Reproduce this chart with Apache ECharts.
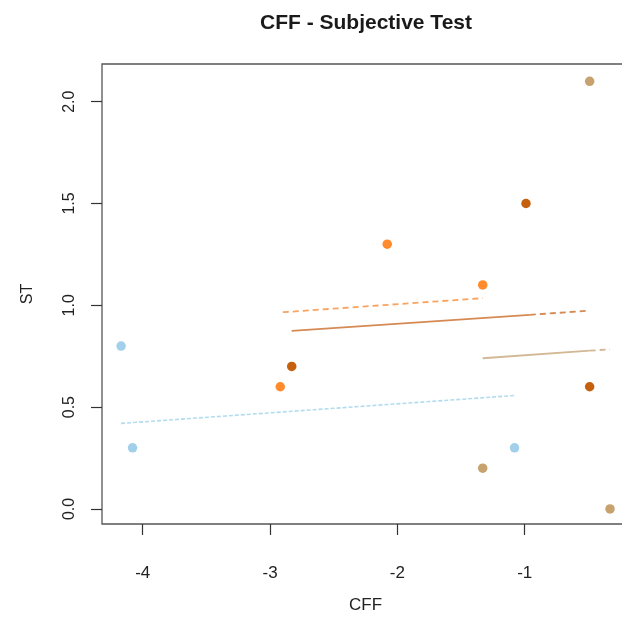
<!DOCTYPE html>
<html>
<head>
<meta charset="utf-8">
<script src="https://cdn.jsdelivr.net/npm/echarts@6/dist/echarts.min.js"></script>
<style>html,body{margin:0;padding:0;background:#fff;overflow:hidden;width:622px;height:619px;}#c{width:629px;height:619px;}</style>
</head>
<body>
<div id="c"></div>
<script>
// ---- data ----
const blueX = [-4.17, -4.08, -1.08];
const blueY = [0.8, 0.3, 0.3];
const orangeX = [-2.92, -2.08, -1.33];
const orangeY = [0.6, 1.3, 1.1];
const darkX = [-2.83, -0.99, -0.49];
const darkY = [0.7, 1.5, 0.6];
const tanX = [-0.49, -1.33, -0.33];
const tanY = [2.1, 0.2, 0.0];

// fitted lines (solid part / dashed part)
const blueLineX = [-4.17, -1.08];
const blueLineY = [0.42, 0.557];
const orangeLineX = [-2.90, -1.33];
const orangeLineY = [0.966, 1.035];
const darkSolidX = [-2.83, -0.96];
const darkSolidY = [0.874, 0.953];
const darkDashX = [-0.96, -0.49];
const darkDashY = [0.953, 0.974];
const tanSolidX = [-1.33, -0.49];
const tanSolidY = [0.740, 0.777];
const tanDashX = [-0.49, -0.33];
const tanDashY = [0.777, 0.784];

const xTicks = [-4, -3, -2, -1];
const yTicks = [0, 0.5, 1, 1.5, 2];

const title = 'CFF - Subjective Test';
const xName = 'CFF';
const yName = 'ST';

const zip = (xs, ys) => xs.map((x, i) => [x, ys[i]]);

const FONT = '"Liberation Sans", Arial, Helvetica, sans-serif';

function scatter(xs, ys, color) {
  return { type: 'scatter', data: zip(xs, ys), symbolSize: 9.5,
    itemStyle: { color: color, opacity: 0.95 }, z: 5, silent: true };
}
function line(xs, ys, color, type, width) {
  return { type: 'line', data: zip(xs, ys), showSymbol: false, silent: true,
    lineStyle: { color: color, type: type, width: width || 1.6 }, z: 3 };
}

const chart = echarts.init(document.getElementById('c'), null, { renderer: 'canvas' });
chart.setOption({
  animation: false,
  backgroundColor: '#fff',
  title: {
    text: title, left: 361, top: 8, textAlign: 'center',
    textStyle: { fontFamily: FONT, fontWeight: 'bold', fontSize: 21, color: '#1a1a1a' }
  },
  grid: { left: 102, top: 64, bottom: 95, right: 0, show: true,
    borderColor: '#555', borderWidth: 1.3, backgroundColor: 'transparent' },
  xAxis: {
    type: 'value', min: -4.32, max: -0.181,
    name: xName, nameLocation: 'middle', nameGap: 73,
    nameTextStyle: { fontFamily: FONT, fontSize: 17, color: '#222' },
    axisLine: { show: false, onZero: false },
    splitLine: { show: false },
    axisTick: { show: true, customValues: xTicks, length: 11, inside: false,
      lineStyle: { color: '#333', width: 1.2 } },
    axisLabel: { customValues: xTicks, margin: 41, fontFamily: FONT, fontSize: 17, color: '#222',
      formatter: v => String(v) }
  },
  yAxis: {
    type: 'value', min: -0.074, max: 2.185,
    name: yName, nameLocation: 'middle', nameGap: 66, nameRotate: 90,
    nameTextStyle: { fontFamily: FONT, fontSize: 16, color: '#222' },
    axisLine: { show: false, onZero: false },
    splitLine: { show: false },
    axisTick: { show: true, customValues: yTicks, length: 11, inside: false,
      lineStyle: { color: '#333', width: 1.2 } },
    axisLabel: { customValues: yTicks, margin: 24, rotate: 90, fontFamily: FONT, fontSize: 16, color: '#222',
      formatter: v => Number(v).toFixed(1) }
  },
  series: [
    line(blueLineX, blueLineY, '#b3dcef', [4, 2], 1.6),
    line(orangeLineX, orangeLineY, '#f9a35e', [6, 4], 1.8),
    line(darkSolidX, darkSolidY, '#d48a52', 'solid', 1.8),
    line(darkDashX, darkDashY, '#d48a52', [6, 4], 1.8),
    line(tanSolidX, tanSolidY, '#d2b894', 'solid', 1.8),
    line(tanDashX, tanDashY, '#d2b894', [6, 4], 1.8),
    scatter(blueX, blueY, '#9dcde9'),
    scatter(orangeX, orangeY, '#ff8521'),
    scatter(darkX, darkY, '#c25800'),
    scatter(tanX, tanY, '#c49c66')
  ]
});
</script>
</body>
</html>
